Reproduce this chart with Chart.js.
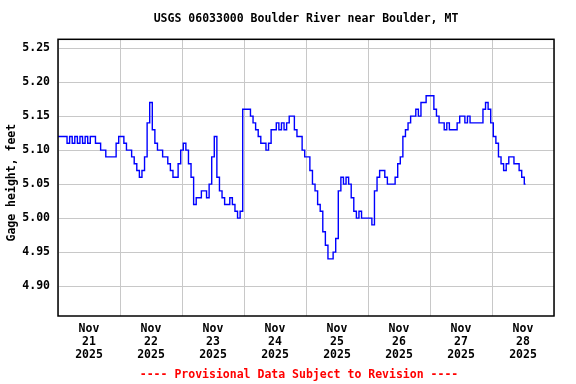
<!DOCTYPE html>
<html>
<head>
<meta charset="utf-8">
<title>USGS 06033000 Boulder River near Boulder, MT</title>
<script src="https://cdn.jsdelivr.net/npm/chart.js@4.4.1/dist/chart.umd.min.js"></script>
<style>
  html, body { margin: 0; padding: 0; background: #fff; }
  #chart-box { width: 576px; height: 384px; }
</style>
</head>
<body>
<div id="chart-box"><canvas id="gage-chart" width="576" height="384"></canvas></div>
<script>
const stationTitle = "USGS 06033000 Boulder River near Boulder, MT";
const footerText = "---- Provisional Data Subject to Revision ----";
const yAxisTitle = "Gage height, feet";

// one label per day, drawn at noon
const dayMonth = "Nov";
const dayNumbers = ["21", "22", "23", "24", "25", "26", "27", "28"];
const dayYear = "2025";

const yTickValues = [4.90, 4.95, 5.00, 5.05, 5.10, 5.15, 5.20, 5.25];
const yRange = [4.856, 5.263];
const hoursShown = 192;

// hourly gage height (ft), starting Nov 21 2025 00:00
const gageHeights = [
    5.12, 5.12, 5.12, 5.12, 5.11, 5.12, 5.11, 5.12, 5.11, 5.12, 5.11, 5.12,
    5.11, 5.12, 5.12, 5.11, 5.11, 5.10, 5.10, 5.09, 5.09, 5.09, 5.09, 5.11,
    5.12, 5.12, 5.11, 5.10, 5.10, 5.09, 5.08, 5.07, 5.06, 5.07, 5.09, 5.14,
    5.17, 5.13, 5.11, 5.10, 5.10, 5.09, 5.09, 5.08, 5.07, 5.06, 5.06, 5.08,
    5.10, 5.11, 5.10, 5.08, 5.06, 5.02, 5.03, 5.03, 5.04, 5.04, 5.03, 5.05,
    5.09, 5.12, 5.06, 5.04, 5.03, 5.02, 5.02, 5.03, 5.02, 5.01, 5.00, 5.01,
    5.16, 5.16, 5.16, 5.15, 5.14, 5.13, 5.12, 5.11, 5.11, 5.10, 5.11, 5.13,
    5.13, 5.14, 5.13, 5.14, 5.13, 5.14, 5.15, 5.15, 5.13, 5.12, 5.12, 5.10,
    5.09, 5.09, 5.07, 5.05, 5.04, 5.02, 5.01, 4.98, 4.96, 4.94, 4.94, 4.95,
    4.97, 5.04, 5.06, 5.05, 5.06, 5.05, 5.03, 5.01, 5.00, 5.01, 5.00, 5.00,
    5.00, 5.00, 4.99, 5.04, 5.06, 5.07, 5.07, 5.06, 5.05, 5.05, 5.05, 5.06,
    5.08, 5.09, 5.12, 5.13, 5.14, 5.15, 5.15, 5.16, 5.15, 5.17, 5.17, 5.18,
    5.18, 5.18, 5.16, 5.15, 5.14, 5.14, 5.13, 5.14, 5.13, 5.13, 5.13, 5.14,
    5.15, 5.15, 5.14, 5.15, 5.14, 5.14, 5.14, 5.14, 5.14, 5.16, 5.17, 5.16,
    5.14, 5.12, 5.11, 5.09, 5.08, 5.07, 5.08, 5.09, 5.09, 5.08, 5.08, 5.07,
    5.06, 5.05
];

const labelFont = { family: "'DejaVu Sans Mono', monospace", size: 11.5, weight: "bold", lineHeight: 1.13 };

const gagePoints = gageHeights.map((v, i) => ({ x: i, y: v }));

// black box round the plot + title, axis title and red footer
// (the gif does not centre these on the canvas, so they are placed by hand)
const frameAndText = {
    id: "frameAndText",
    afterDatasetsDraw(chart) {
        const { ctx, chartArea } = chart;
        const midX = (chartArea.left + chartArea.right) / 2;
        const midY = (chartArea.top + chartArea.bottom) / 2;
        ctx.save();
        ctx.strokeStyle = "#000";
        ctx.lineWidth = 1.5;
        ctx.strokeRect(chartArea.left, chartArea.top, chartArea.right - chartArea.left, chartArea.bottom - chartArea.top);

        ctx.font = "bold 11.5px 'DejaVu Sans Mono', monospace";
        ctx.textAlign = "center";
        ctx.textBaseline = "middle";
        ctx.fillStyle = "#000";
        ctx.fillText(stationTitle, midX, 19.5);

        ctx.save();
        ctx.translate(12.5, midY + 5);
        ctx.rotate(-Math.PI / 2);
        ctx.fillText(yAxisTitle, 0, 0);
        ctx.restore();

        ctx.fillStyle = "#ff0000";
        ctx.fillText(footerText, midX - 7, 375);
        ctx.restore();
    }
};

new Chart(document.getElementById("gage-chart"), {
    type: "line",
    data: {
        datasets: [{
            label: "Gage height",
            data: gagePoints,
            borderColor: "#0000ff",
            borderWidth: 1.4,
            pointRadius: 0,
            stepped: "middle",
            fill: false
        }]
    },
    options: {
        responsive: false,
        animation: false,
        events: [],
        layout: { padding: { left: 0, right: 22, top: 39.3, bottom: 20.4 } },
        scales: {
            x: {
                type: "linear",
                min: 0,
                max: hoursShown,
                afterBuildTicks: (scale) => {
                    const ticks = [];
                    for (let h = 0; h <= hoursShown; h += 12) ticks.push({ value: h });
                    scale.ticks = ticks;
                },
                afterFit: (scale) => { scale.height = 47.6; },
                border: { display: false },
                grid: {
                    color: (ctx) => (ctx.tick && ctx.tick.value % 24 === 0) ? "#c8c8c8" : "rgba(0,0,0,0)",
                    lineWidth: 1,
                    drawTicks: false
                },
                ticks: {
                    autoSkip: false,
                    maxRotation: 0,
                    padding: 7,
                    color: "#000",
                    font: labelFont,
                    callback: (value) => {
                        if (value % 24 !== 12) return "";
                        return [dayMonth, dayNumbers[(value - 12) / 24], dayYear];
                    }
                }
            },
            y: {
                min: yRange[0],
                max: yRange[1],
                afterBuildTicks: (scale) => {
                    scale.ticks = yTickValues.map(v => ({ value: v }));
                },
                afterFit: (scale) => { scale.width = 58; },
                border: { display: false },
                grid: { color: "#c8c8c8", lineWidth: 1, drawTicks: false },
                ticks: {
                    padding: 8,
                    color: "#000",
                    font: labelFont,
                    callback: (value) => Number(value).toFixed(2)
                },
                title: { display: false }
            }
        },
        plugins: {
            legend: { display: false },
            tooltip: { enabled: false },
            title: { display: false },
            subtitle: { display: false }
        }
    },
    plugins: [frameAndText]
});
</script>
</body>
</html>
